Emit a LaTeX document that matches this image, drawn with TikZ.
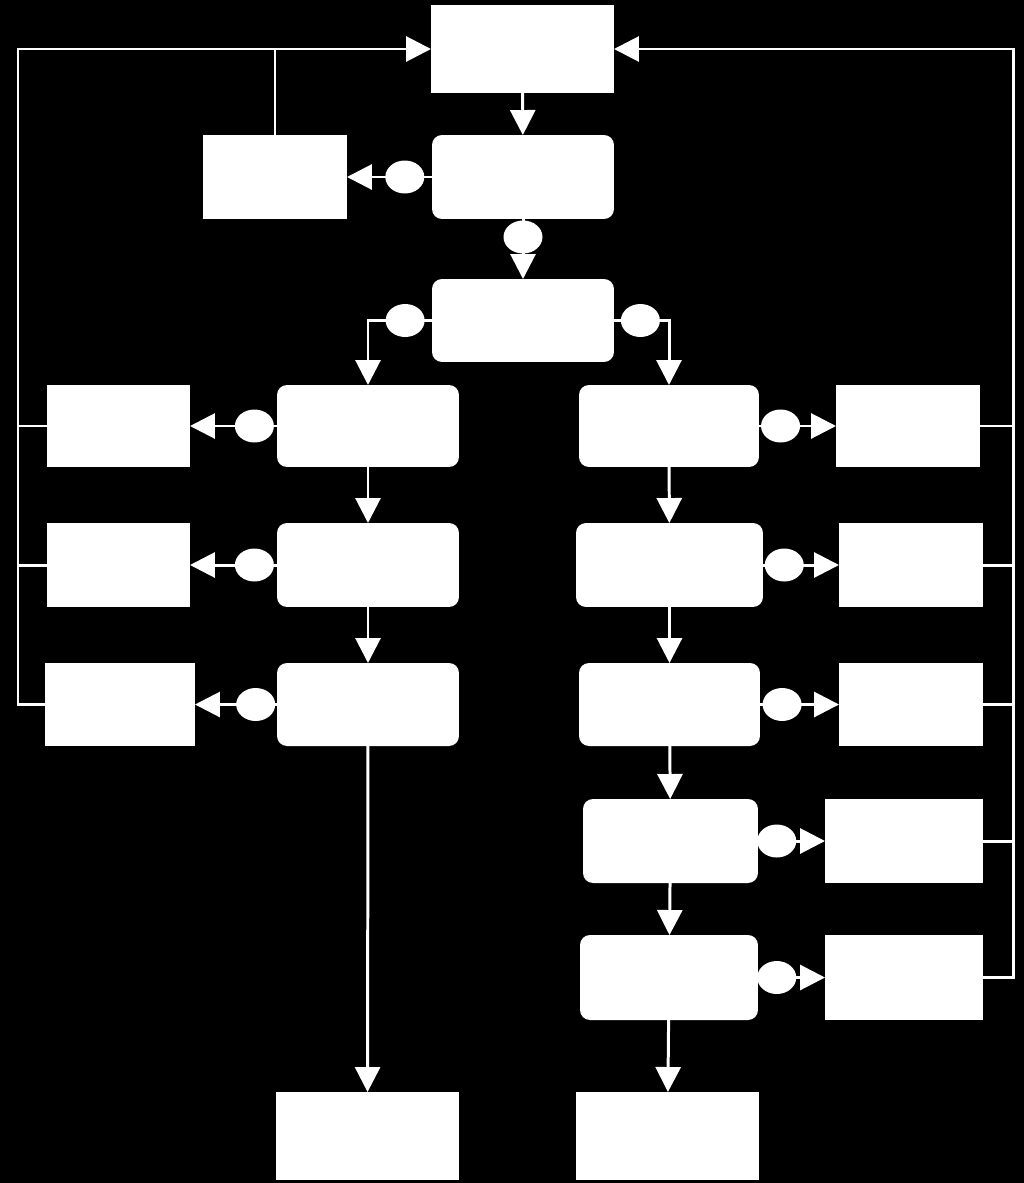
\documentclass[tikz,border=0pt]{standalone}
\usetikzlibrary{arrows.meta,shapes.geometric}
\tikzset{
  box/.style={fill=white,inner sep=0pt,outer sep=0pt,minimum width=3.64cm,minimum height=1.66cm},
  stage/.style={box,rounded corners=0.2cm},
  outbox/.style={box,minimum width=2.88cm},
  endbox/.style={box,minimum width=3.66cm,minimum height=1.76cm},
  blob/.style={ellipse,fill=white,inner sep=0pt,outer sep=0pt,minimum width=0.78cm,minimum height=0.66cm},
  wire/.style={white,line width=1.7pt},
  arr/.style={wire,-{Triangle[length=0.5cm,width=0.5cm]}}
}
\begin{document}
\begin{tikzpicture}[x=0.02cm,y=-0.02cm]
  \fill[black] (0,0) rectangle (1024,1183);
  \useasboundingbox (0,0) rectangle (1024,1183);
  % main line
  \node[endbox] (top) at (522.5,49) {};
  \node[stage,minimum height=1.68cm] (b1) at (523,177) {};
  \node[outbox,minimum height=1.68cm] (l0) at (275,177) {};
  \node[stage] (b2) at (523,320.5) {};
  % left branch
  \node[stage,minimum height=1.64cm] (la1) at (368,426) {};
  \node[stage,minimum height=1.68cm] (la2) at (368,565) {};
  \node[stage] (la3) at (368,704.5) {};
  \node[outbox,minimum width=2.86cm,minimum height=1.64cm] (ls1) at (118.5,426) {};
  \node[outbox,minimum width=2.86cm,minimum height=1.68cm] (ls2) at (118.5,565) {};
  \node[outbox,minimum width=3cm] (ls3) at (120,704.5) {};
  \node[endbox] (lb) at (367.5,1136) {};
  % right branch
  \node[stage,minimum width=3.6cm,minimum height=1.64cm] (ra1) at (669,426) {};
  \node[stage,minimum width=3.74cm,minimum height=1.68cm] (ra2) at (669.5,565) {};
  \node[stage,minimum width=3.62cm] (ra3) at (669.5,704.5) {};
  \node[stage,minimum width=3.5cm,minimum height=1.68cm] (ra4) at (670.5,841) {};
  \node[stage,minimum width=3.56cm,minimum height=1.7cm] (ra5) at (669,977.5) {};
  \node[outbox,minimum height=1.64cm] (rs1) at (908,426) {};
  \node[outbox,minimum height=1.68cm] (rs2) at (911,565) {};
  \node[outbox] (rs3) at (911,704.5) {};
  \node[outbox,minimum width=3.16cm,minimum height=1.68cm] (rs4) at (904,841) {};
  \node[outbox,minimum width=3.16cm,minimum height=1.7cm] (rs5) at (904,977.5) {};
  \node[endbox] (rb) at (667.5,1136) {};
  \coordinate (lbus) at (18,49);
  \coordinate (rbus) at (1013,49);

  \draw[arr] (top) -- (b1);
  \draw[arr] (b1) -- node[blob,pos=.32]{} (l0);
  \draw[arr] (b1) -- node[blob,pos=.3]{} (b2);
  \draw[arr] (b2.west) -| node[blob,pos=.21]{} (la1.north);
  \draw[arr] (b2.east) -| node[blob,pos=.24]{} (ra1.north);
  \draw[arr] (la1) -- (la2);
  \draw[arr] (la2) -- (la3);
  \draw[arr] (la3) -- (lb);
  \draw[arr] (ra1) -- (ra2);
  \draw[arr] (ra2) -- (ra3);
  \draw[arr] (ra3) -- (ra4);
  \draw[arr] (ra4) -- (ra5);
  \draw[arr] (ra5) -- (rb);
  \foreach \n in {1,2,3} \draw[arr] (la\n) -- node[blob,pos=.26]{} (ls\n);
  \foreach \n in {1,...,5} \draw[arr] (ra\n) -- node[blob,pos=.28]{} (rs\n);

  % feedback
  \draw[arr] (ls3.west) -| (lbus) -- (top.west);
  \foreach \n in {1,2} \draw[wire] (ls\n.west) -- (ls\n.west -| lbus);
  \draw[wire] (l0.north) -- (l0.north |- top.west);
  \draw[arr] (rs5.east) -| (rbus) -- (top.east);
  \foreach \n in {1,...,4} \draw[wire] (rs\n.east) -- (rs\n.east -| rbus);
\end{tikzpicture}
\end{document}
